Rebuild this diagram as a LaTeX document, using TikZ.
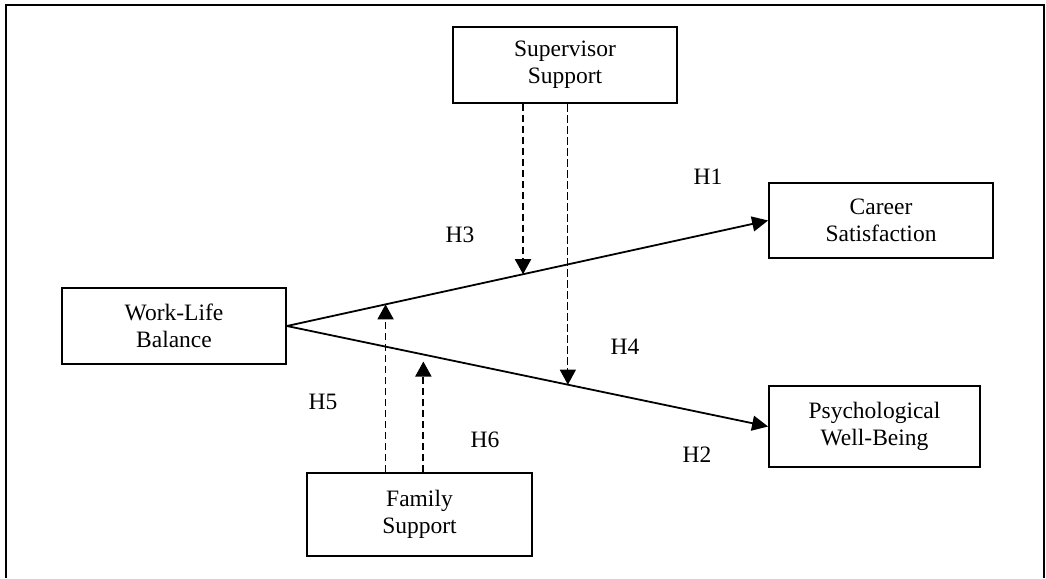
\documentclass[tikz,border=0pt]{standalone}
\usepackage{fontspec}
\setmainfont{Liberation Serif}
\usepackage{tikz}
\usetikzlibrary{arrows.meta,calc,positioning}
\tikzset{
  construct/.style={rectangle,draw=black,line width=1.8pt,align=center,
    inner sep=2pt,font=\fontsize{23.5}{27}\selectfont,fill=white},
  effect/.style={-{Triangle[length=16pt,width=15pt]},line width=1.8pt},
  moderation/.style={-{Triangle[length=15pt,width=16pt]},line width=1.8pt,
    dash pattern=on 7pt off 4pt},
  thinmoderation/.style={moderation,line width=1.1pt,dash pattern=on 8pt off 3pt},
  hyplabel/.style={font=\fontsize{23.5}{27}\selectfont,inner sep=1pt}
}

\begin{document}
\begin{tikzpicture}[x=1pt,y=-1pt]
  \useasboundingbox (0,0) rectangle (1046,578);
  \draw[line width=2.4pt] (6,578) -- (6,5) -- (1044,5) -- (1044,578);

  \node[construct,minimum width=224pt,minimum height=76pt] (sup) at (565,65) {Supervisor\\Support};
  \node[construct,minimum width=224pt,minimum height=76pt] (wlb) at (174,326) {Work-Life\\Balance};
  \node[construct,minimum width=224pt,minimum height=75pt] (career) at (881,220.5) {Career\\Satisfaction};
  \node[construct,minimum width=211pt,minimum height=81pt] (psych) at (874.5,426.5) {Psychological\\Well-Being};
  \node[construct,minimum width=225pt,minimum height=83pt] (fam) at (419.5,514.5) {Family\\Support};

  \draw[effect] (wlb.east) -- (career.west);
  \draw[effect] (wlb.east) -- (psych.west);

  % points where the moderators meet the paths
  \path (wlb.east) -- (career.west)
    coordinate[pos=0.205] (m5) coordinate[pos=0.4907] (m3);
  \path (wlb.east) -- (psych.west)
    coordinate[pos=0.2836] (m6) coordinate[pos=0.5839] (m4);

  \draw[moderation] (m3 |- sup.south) -- (m3);
  \draw[thinmoderation] (m4 |- sup.south) -- (m4);
  \draw[moderation] (m5 |- fam.north) -- (m5);
  \draw[moderation,shorten >=7pt] (m6 |- fam.north) -- (m6);

  \node[hyplabel] (h1) at (708,177) {H1};
  \node[hyplabel] (h2) at (697,455) {H2};
  \node[hyplabel] (h3) at (460,235) {H3};
  \node[hyplabel] (h4) at (625,347) {H4};
  \node[hyplabel] (h5) at (323,402) {H5};
  \node[hyplabel] (h6) at (485,440) {H6};
\end{tikzpicture}
\end{document}
